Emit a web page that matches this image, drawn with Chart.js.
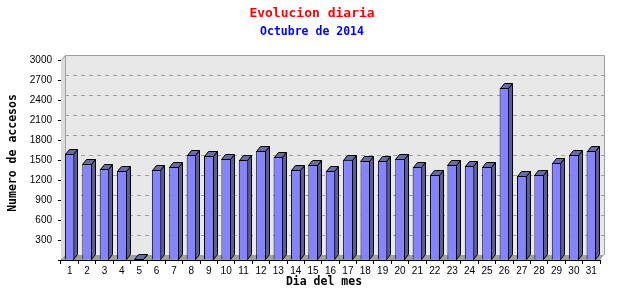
<!DOCTYPE html>
<html>
<head>
<meta charset="utf-8">
<script src="https://cdn.jsdelivr.net/npm/chart.js@4"></script>
<style>
  html, body { margin: 0; padding: 0; background: #fff; }
</style>
</head>
<body>
<canvas id="visitsChart" width="640" height="300"></canvas>
<script>
const days = ['1','2','3','4','5','6','7','8','9','10','11','12','13','14','15','16',
              '17','18','19','20','21','22','23','24','25','26','27','28','29','30','31'];
const accesses = [1590, 1440, 1365, 1335, 10, 1350, 1395, 1575, 1560, 1515, 1500, 1635, 1545, 1350, 1425, 1335,
                  1505, 1485, 1485, 1515, 1395, 1275, 1425, 1410, 1395, 2580, 1260, 1275, 1455, 1575, 1635];
const yTicks = [300, 600, 900, 1200, 1500, 1800, 2100, 2400, 2700, 3000];
const mainTitle = 'Evolucion diaria';
const subTitle = 'Octubre de 2014';
const xTitle = 'Dia del mes';
const yTitle = 'Numero de accesos';

const DX = 4, DY = 5;
const MONO = '"DejaVu Sans Mono", monospace';

// back wall, floor, dashed grid and the 3d sides of each bar
const depthPlugin = {
    id: 'depth',
    beforeDatasetsDraw(chart) {
        const { ctx, chartArea: a, scales: { y } } = chart;
        ctx.save();
        // left wall
        ctx.fillStyle = '#dcdcdc';
        ctx.beginPath();
        ctx.moveTo(a.left, a.bottom);
        ctx.lineTo(a.left + DX, a.bottom - DY);
        ctx.lineTo(a.left + DX, a.top - DY);
        ctx.lineTo(a.left, a.top);
        ctx.closePath();
        ctx.fill();
        // back wall
        ctx.fillStyle = '#e8e8e8';
        ctx.fillRect(a.left + DX, a.top - DY, a.right - a.left, a.bottom - a.top);
        ctx.strokeStyle = '#a0a0a0';
        ctx.lineWidth = 1;
        ctx.beginPath();
        ctx.moveTo(a.left + DX + 0.5, a.bottom - DY);
        ctx.lineTo(a.left + DX + 0.5, a.top - DY + 0.5);
        ctx.lineTo(a.right + DX + 0.5, a.top - DY + 0.5);
        ctx.lineTo(a.right + DX + 0.5, a.bottom - DY);
        ctx.moveTo(a.left + 0.5, a.top);
        ctx.lineTo(a.left + DX + 0.5, a.top - DY + 0.5);
        ctx.stroke();
        // floor
        ctx.fillStyle = '#a0a0a0';
        ctx.beginPath();
        ctx.moveTo(a.left, a.bottom);
        ctx.lineTo(a.left + DX, a.bottom - DY);
        ctx.lineTo(a.right + DX, a.bottom - DY);
        ctx.lineTo(a.right, a.bottom);
        ctx.closePath();
        ctx.fill();
        // dashed grid on back wall
        ctx.setLineDash([4, 4]);
        ctx.strokeStyle = '#a0a0a0';
        yTicks.slice(0, -1).forEach(v => {
            const py = Math.round(y.getPixelForValue(v) - DY) + 0.5;
            ctx.beginPath();
            ctx.moveTo(a.left + DX, py);
            ctx.lineTo(a.right + DX, py);
            ctx.stroke();
        });
        ctx.setLineDash([]);
        // bar sides and tops
        const meta = chart.getDatasetMeta(0);
        meta.data.forEach(bar => {
            const l = Math.round(bar.x - bar.width / 2) + 0.5;
            const r = Math.round(bar.x + bar.width / 2) - 0.5;
            const t = Math.round(bar.y) + 0.5;
            const b = Math.round(bar.base) - 0.5;
            ctx.strokeStyle = '#000';
            ctx.fillStyle = '#5c5c98';
            ctx.beginPath();
            ctx.moveTo(r, t);
            ctx.lineTo(r + DX, t - DY);
            ctx.lineTo(r + DX, b - DY);
            ctx.lineTo(r, b);
            ctx.closePath();
            ctx.fill();
            ctx.stroke();
            ctx.fillStyle = '#6a6aa8';
            ctx.beginPath();
            ctx.moveTo(l, t);
            ctx.lineTo(l + DX, t - DY);
            ctx.lineTo(r + DX, t - DY);
            ctx.lineTo(r, t);
            ctx.closePath();
            ctx.fill();
            ctx.stroke();
        });
        ctx.restore();
    },
    afterDraw(chart) {
        const ctx = chart.ctx;
        ctx.save();
        ctx.textAlign = 'center';
        ctx.textBaseline = 'middle';
        ctx.fillStyle = '#ff0000';
        ctx.font = 'bold 13px ' + MONO;
        ctx.fillText(mainTitle, 312, 14);
        ctx.fillStyle = '#0000ff';
        ctx.font = 'bold 11.5px ' + MONO;
        ctx.fillText(subTitle, 312, 32);
        ctx.fillStyle = '#000';
        ctx.font = 'bold 11.5px ' + MONO;
        ctx.fillText(xTitle, 324, 282);
        ctx.translate(13, 153);
        ctx.rotate(-Math.PI / 2);
        ctx.fillText(yTitle, 0, 0);
        ctx.restore();
    }
};

new Chart(document.getElementById('visitsChart').getContext('2d'), {
    type: 'bar',
    data: {
        labels: days,
        datasets: [{
            data: accesses,
            backgroundColor: '#8484ff',
            borderColor: '#000',
            borderWidth: 1,
            barPercentage: 0.55,
            categoryPercentage: 1
        }]
    },
    options: {
        responsive: false,
        devicePixelRatio: 1,
        animation: false,
        layout: { padding: { left: 0, right: 40, top: 60, bottom: 11 } },
        plugins: {
            legend: { display: false },
            tooltip: { enabled: false },
            title: { display: false },
            subtitle: { display: false }
        },
        scales: {
            x: {
                afterFit: s => { s.height = 29; },
                grid: { display: true, drawOnChartArea: false, tickLength: 4, color: '#000', offset: true },
                border: { color: '#000' },
                ticks: { color: '#000', font: { family: '"Liberation Sans", sans-serif', size: 10 }, padding: 1, maxRotation: 0, autoSkip: false }
            },
            y: {
                min: 0,
                max: 3000,
                afterFit: s => { s.width = 61; },
                afterBuildTicks: s => { s.ticks = [0, ...yTicks].map(v => ({ value: v })); },
                grid: { display: true, drawOnChartArea: false, tickLength: 3, color: '#000' },
                border: { color: '#000' },
                ticks: {
                    color: '#000',
                    font: { family: '"Liberation Sans", sans-serif', size: 10 },
                    padding: 6,
                    callback: v => v === 0 ? '' : v
                }
            }
        }
    },
    plugins: [depthPlugin]
});
</script>
</body>
</html>
